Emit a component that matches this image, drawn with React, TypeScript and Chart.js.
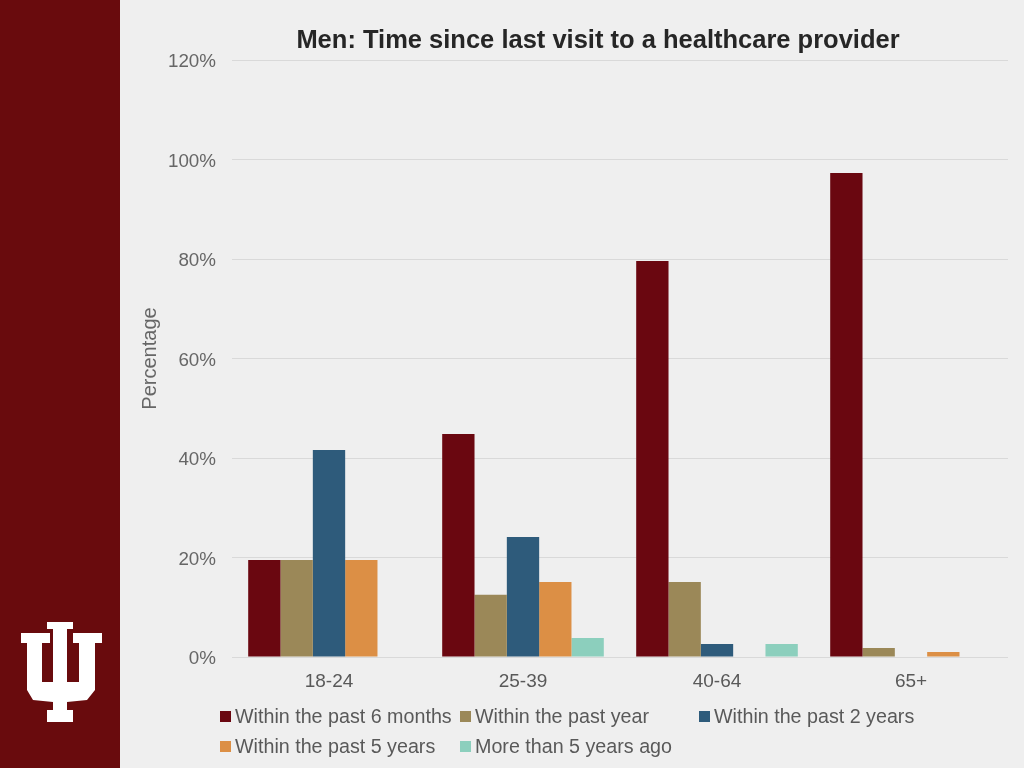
import React, { useEffect, useRef } from "react";
import { Chart, registerables } from "chart.js";

Chart.register(...registerables);

const categories = ["18-24", "25-39", "40-64", "65+"];
const seriesNames = [
  "Within the past 6 months",
  "Within the past year",
  "Within the past 2 years",
  "Within the past 5 years",
  "More than 5 years ago",
];
const within6Months = [19.5, 44.8, 79.6, 97.3];
const withinYear = [19.5, 12.5, 15.1, 1.8];
const within2Years = [41.6, 24.1, 2.6, 0];
const within5Years = [19.5, 15.1, 0, 1.0];
const moreThan5Years = [0, 3.8, 2.6, 0];
const seriesColors = ["#6a0710", "#9b8858", "#2e5b7b", "#dc8f45", "#8ccfbd"];
const yTicks = [0, 20, 40, 60, 80, 100, 120];
const chartTitle = "Men: Time since last visit to a healthcare provider";
const yTitle = "Percentage";

const FONT = '"Liberation Sans", Arial, Helvetica, sans-serif';

export default function App() {
  const canvasRef = useRef<HTMLCanvasElement | null>(null);

  useEffect(() => {
    if (!canvasRef.current) return;
    const values = [within6Months, withinYear, within2Years, within5Years, moreThan5Years];
    const titlePlugin = {
      id: "customTitle",
      afterDraw(chart: any) {
        const ctx = chart.ctx;
        ctx.save();
        ctx.font = `bold 25.5px ${FONT}`;
        ctx.fillStyle = "#262626";
        ctx.textAlign = "center";
        ctx.textBaseline = "middle";
        ctx.fillText(chartTitle, 478, 41);
        ctx.restore();
      },
    };
    const chart = new Chart(canvasRef.current, {
      type: "bar",
      data: {
        labels: categories,
        datasets: seriesNames.map((name, i) => ({
          label: name,
          data: values[i],
          backgroundColor: seriesColors[i],
          borderWidth: 0,
          categoryPercentage: 0.833,
          barPercentage: 1,
        })),
      },
      options: {
        animation: false,
        responsive: false,
        maintainAspectRatio: false,
        layout: { padding: { left: 0, right: 16, top: 60, bottom: 0 } },
        plugins: {
          legend: { display: false },
          tooltip: { enabled: false },
        },
        scales: {
          x: {
            grid: { display: false, drawTicks: false },
            border: { display: false },
            ticks: { color: "#595959", font: { size: 19, family: FONT }, padding: 13 },
            afterFit(scale: any) {
              scale.height = 111;
            },
          },
          y: {
            min: 0,
            max: 120,
            afterBuildTicks(scale: any) {
              scale.ticks = yTicks.map((v) => ({ value: v }));
            },
            grid: { color: "#d9d9d9", lineWidth: 1, drawTicks: false },
            border: { display: false },
            ticks: {
              color: "#666666",
              font: { size: 18.8, family: FONT },
              padding: 16,
              labelOffset: 2,
              callback: (v: any) => v + "%",
            },
            title: {
              display: true,
              text: yTitle,
              color: "#666666",
              font: { size: 20, family: FONT },
              padding: { top: 18, bottom: 0 },
            },
            afterFit(scale: any) {
              scale.width = 112;
            },
          },
        },
      },
      plugins: [titlePlugin],
    });
    return () => chart.destroy();
  }, []);

  const legendRows = [
    [0, 1, 2],
    [3, 4],
  ];
  const colX = [220, 460, 699];
  const rowY = [716, 746];

  return (
    <div
      style={{
        position: "fixed",
        left: 0,
        top: 0,
        width: 1024,
        height: 768,
        background: "#efefef",
        fontFamily: FONT,
        overflow: "hidden",
      }}
    >
      <div
        style={{
          position: "absolute",
          left: 0,
          top: 0,
          width: 120,
          height: 768,
          background: "#690b0d",
        }}
      >
        <svg width={120} height={768} style={{ position: "absolute", left: 0, top: 0 }}>
          <path
            fill="#ffffff"
            d="M47,622 L73,622 L73,629 L67,629 L67,682 L79,682 L79,643 L73,643 L73,633 L102,633 L102,643 L95,643 L95,690 L87,700 L67,702 L67,710 L73,710 L73,722 L47,722 L47,710 L53,710 L53,702 L33,700 L27,690 L27,643 L21,643 L21,633 L50,633 L50,643 L42,643 L42,682 L53,682 L53,629 L47,629 Z"
          />
        </svg>
      </div>
      <div style={{ position: "absolute", left: 120, top: 0, width: 904, height: 768 }}>
        <canvas ref={canvasRef} width={904} height={768} style={{ width: 904, height: 768, display: "block" }} />
      </div>
      {legendRows.map((row, r) =>
        row.map((si, c) => (
          <div
            key={si}
            style={{
              position: "absolute",
              left: colX[c],
              top: rowY[r] - 12,
              height: 24,
              display: "flex",
              alignItems: "center",
              whiteSpace: "nowrap",
              fontSize: 19.7,
              color: "#595959",
            }}
          >
            <span
              style={{
                display: "inline-block",
                width: 11,
                height: 11,
                background: seriesColors[si],
                marginRight: 4,
              }}
            />
            <span>{seriesNames[si]}</span>
          </div>
        ))
      )}
    </div>
  );
}
